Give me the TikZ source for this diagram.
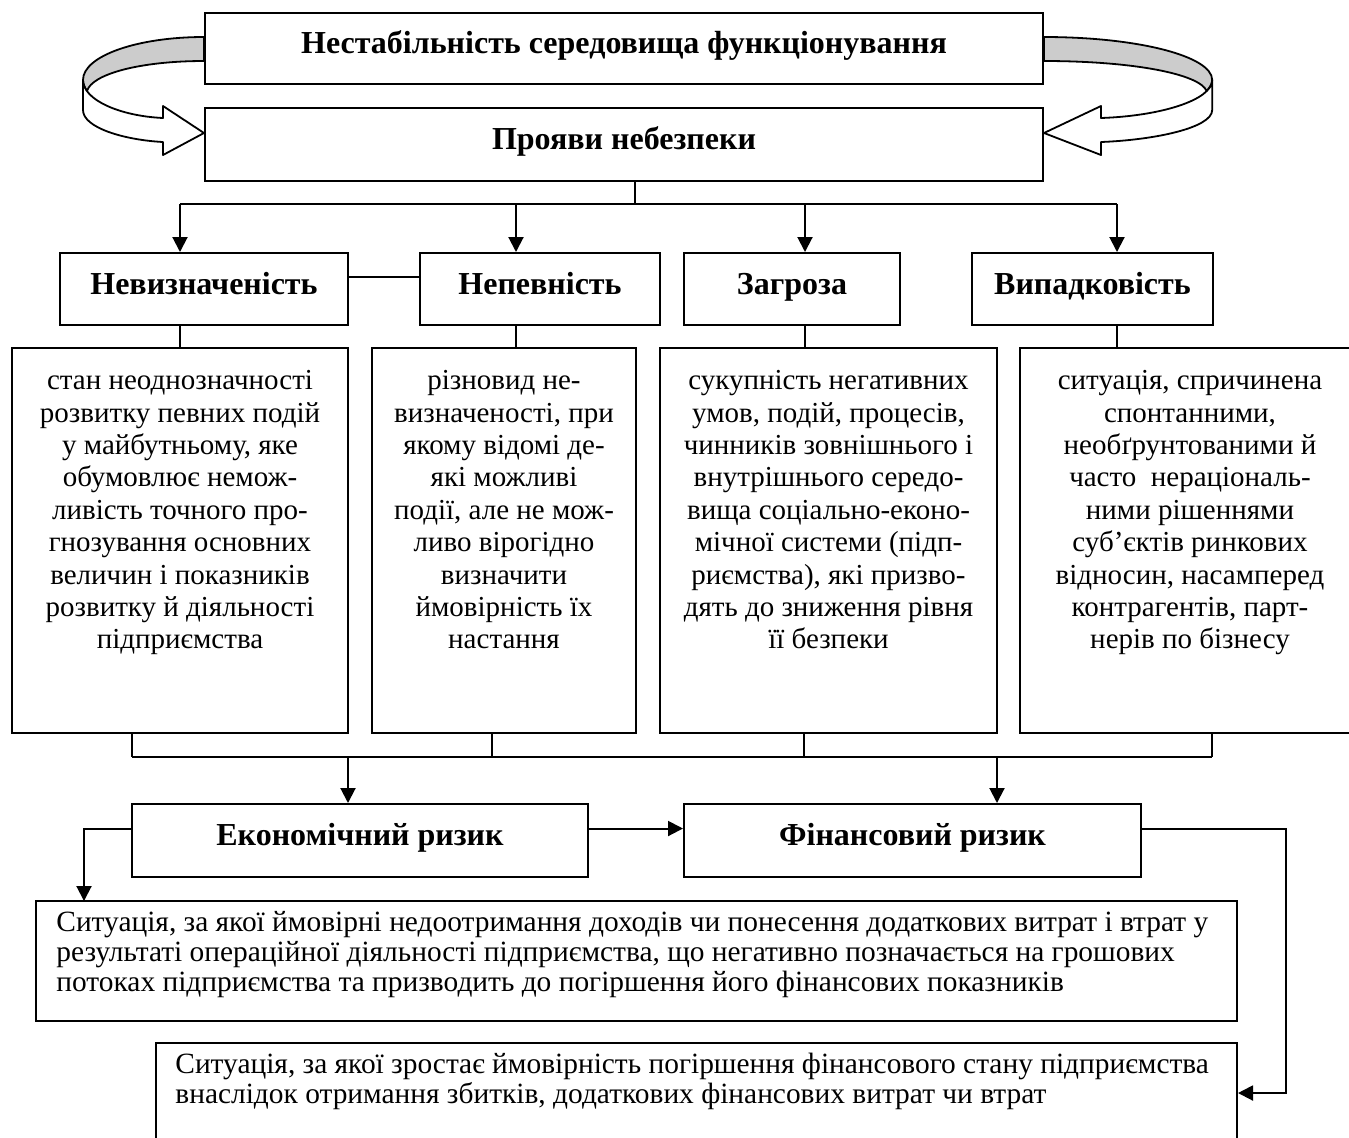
\documentclass[tikz,border=0pt]{standalone}
\usepackage{fontspec}
\setmainfont{Liberation Serif}
\usetikzlibrary{arrows.meta,positioning}

\begin{document}
\begin{tikzpicture}[x=0.5pt, y=-0.5pt,
    title/.style={draw, line width=1pt, inner sep=0pt, text height=10pt, text depth=5pt, font=\fontsize{16}{19}\selectfont\bfseries},
    panel/.style={draw, line width=1pt, inner sep=0pt},
    body/.style={inner sep=0pt, align=center, font=\fontsize{14.5}{16.2}\selectfont},
    note/.style={inner sep=0pt, align=left, font=\fontsize{14.7}{15}\selectfont},
    link/.style={line width=1pt},
    arr/.style={line width=1pt, -{Triangle[length=7.5pt,width=7.5pt]}},
    ribbon/.style={draw, line width=0.9pt, line join=round}]

    \useasboundingbox (0,0) rectangle (1349,1137);

    \node[title, minimum width=419pt, minimum height=35.5pt] (unstable) at (624,48.5) {Нестабільність середовища функціонування};
    \node[title, minimum width=419pt, minimum height=36.5pt] (signs) at (624,144.5) {Прояви небезпеки};

    \foreach \edge/\sx in {204/-1, 1044/1.39} {
    \begin{scope}[shift={(\edge,0)}, xscale=\sx]
    \draw[ribbon, fill=black!20] (0,37) .. controls (67,37) and (121,56) .. (121,80)
        .. controls (121,84) and (119,88) .. (117,91) .. controls (112,74) and (64,61) .. (0,61) -- cycle;
    \draw[ribbon, fill=white] (121,80) -- (121,110) .. controls (121,128) and (79,140) .. (41,142)
        -- (41,155) -- (0,133) -- (41,106) -- (41,118) .. controls (84,116) and (121,100) .. (121,80) -- cycle;
    \end{scope}
    }

    \node[title, minimum width=144pt, minimum height=36pt] (unc) at (204,289) {Невизначеність};
    \node[title, minimum width=120pt, minimum height=36pt] (doubt) at (540,289) {Непевність};
    \node[title, minimum width=108pt, minimum height=36pt] (threat) at (792,289) {Загроза};
    \node[title, minimum width=120.5pt, minimum height=36pt] (chance) at (1092.5,289) {Випадковість};

    \node[panel, minimum width=168pt, minimum height=192.5pt] (unc-d) at (180,540.5) {};
    \node[panel, minimum width=132pt, minimum height=192.5pt] (doubt-d) at (504,540.5) {};
    \node[panel, minimum width=168.5pt, minimum height=192.5pt] (threat-d) at (828.5,540.5) {};
    \node[panel, minimum width=170pt, minimum height=192.5pt] (chance-d) at (1190,540.5) {};

    \node[body, below=11.5pt of unc-d.north] (unc-t) {стан неоднозначності\\розвитку певних подій\\у майбутньому, яке\\обумовлює немож-\\ливість точного про-\\гнозування основних\\величин і показників\\розвитку й діяльності\\підприємства};
    \node[body, below=11.5pt of doubt-d.north] (doubt-t) {різновид не-\\визначеності, при\\якому відомі де-\\які можливі\\події, але не мож-\\ливо вірогідно\\визначити\\ймовірність їх\\настання};
    \node[body, below=11.5pt of threat-d.north] (threat-t) {сукупність негативних\\умов, подій, процесів,\\чинників зовнішнього і\\внутрішнього середо-\\вища соціально-еконо-\\мічної системи (підп-\\риємства), які призво-\\дять до зниження рівня\\її безпеки};
    \node[body, below=11.5pt of chance-d.north] (chance-t) {ситуація, спричинена\\спонтанними,\\необґрунтованими й\\часто\ \ нераціональ-\\ними рішеннями\\суб’єктів ринкових\\відносин, насамперед\\контрагентів, парт-\\нерів по бізнесу};

    \node[title, minimum width=228pt, minimum height=36.5pt] (econ) at (360,840.5) {Економічний ризик};
    \node[title, minimum width=228.5pt, minimum height=36.5pt] (fin) at (912.5,840.5) {Фінансовий ризик};

    \node[panel, minimum width=600.5pt, minimum height=60pt] (econ-d) at (636.5,961) {};
    \node[panel, minimum width=540.5pt, minimum height=50pt] (fin-d) at (696.5,1093) {};
    \node[note, below right=5.5pt and 10.5pt of econ-d.north west] (econ-t) {Ситуація, за якої ймовірні недоотримання доходів чи понесення додаткових витрат і втрат у\\результаті операційної діяльності підприємства, що негативно позначається на грошових\\потоках підприємства та призводить до погіршення його фінансових показників};
    \node[note, below right=5.5pt and 10pt of fin-d.north west] (fin-t) {Ситуація, за якої зростає ймовірність погіршення фінансового стану підприємства\\внаслідок отримання збитків, додаткових фінансових витрат чи втрат};

    \coordinate (split) at (635,204);
    \coordinate (c1) at (180,204);
    \coordinate (c2) at (516,204);
    \coordinate (c3) at (805,204);
    \coordinate (c4) at (1117,204);
    \coordinate (b1) at (132,757);
    \coordinate (b2) at (492,757);
    \coordinate (b3) at (804,757);
    \coordinate (b4) at (1212,757);
    \coordinate (m1) at (348,757);
    \coordinate (m2) at (997,757);
    \coordinate (l1) at (84,901);
    \coordinate (r1) at (1286,1093);

    \draw[link] (signs.south -| split) -- (split);
    \draw[link] (c1) -- (c4);
    \foreach \n/\c in {unc/c1, doubt/c2, threat/c3, chance/c4} {
    \draw[arr] (\c) -- (\n.north -| \c);
    \draw[link] (\n.south -| \c) -- (\n-d.north -| \c);
    }
    \draw[link] ([yshift=6pt]unc.east) -- ([yshift=6pt]doubt.west);

    \foreach \n/\b in {unc/b1, doubt/b2, threat/b3, chance/b4}
    \draw[link] (\n-d.south -| \b) -- (\b);
    \draw[link] (b1) -- (b4);
    \draw[arr] (m1) -- (econ.north -| m1);
    \draw[arr] (m2) -- (fin.north -| m2);

    \draw[arr] ([yshift=6pt]econ.east) -- ([yshift=6pt]fin.west);
    \draw[arr] ([yshift=6pt]econ.west) -| (l1);
    \draw[arr] ([yshift=6pt]fin.east) -| (r1) -- (fin-d.east);

\end{tikzpicture}
\end{document}
